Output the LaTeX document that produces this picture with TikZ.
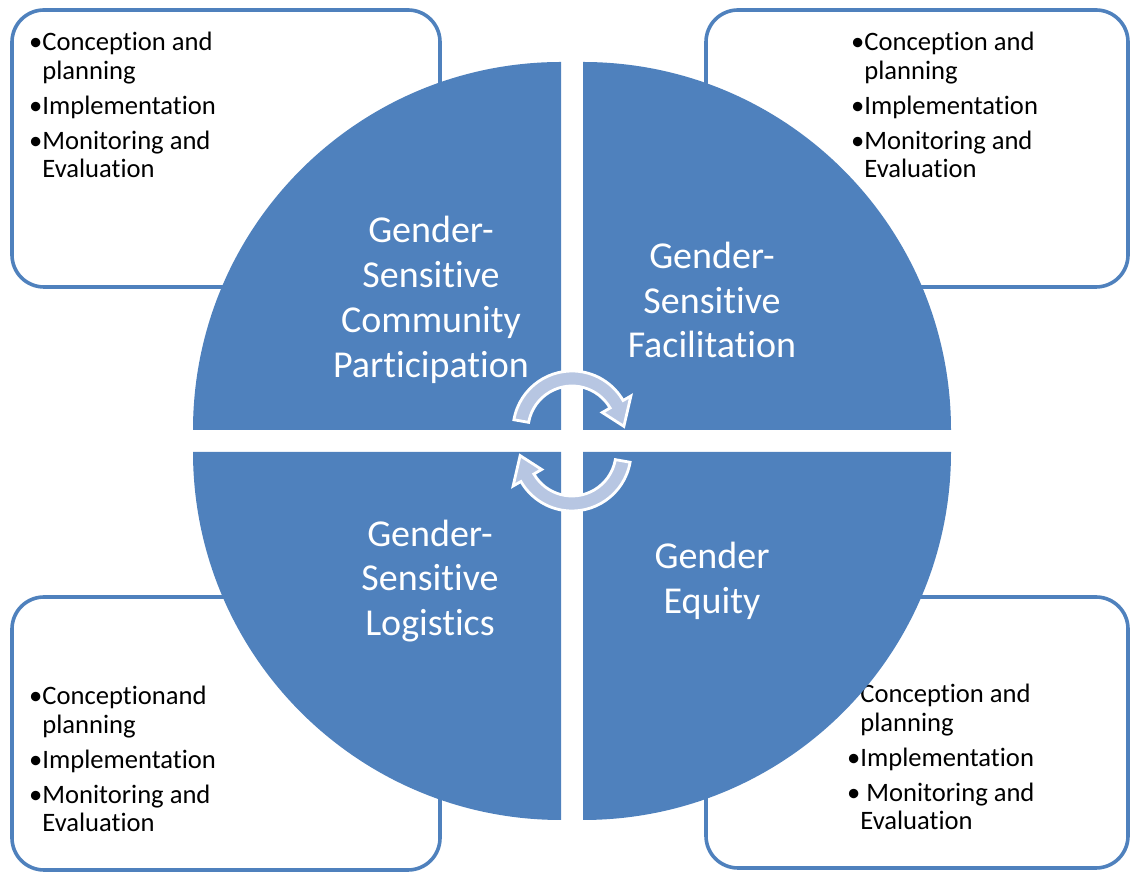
\documentclass[tikz,border=0pt]{standalone}
\usepackage{fontspec}
\setmainfont{Carlito}
\usetikzlibrary{calc}
\definecolor{quadblue}{RGB}{79,129,189}
\definecolor{arrowblue}{RGB}{183,198,226}
\tikzset{
  quadrant/.style={fill=quadblue},
  listbox/.style={draw=quadblue, line width=1.8pt, rounded corners=16pt, fill=white},
  listtext/.style={anchor=north west, align=left, inner sep=0pt, font=\fontsize{13.3}{14.25}\selectfont},
  quadtext/.style={align=center, text=white, inner sep=0pt, font=\fontsize{19}{22.4}\selectfont},
  arrowband/.style={fill=arrowblue, draw=white, line width=1.4pt}
}
\newcommand{\itemgap}{\\[3.25pt]}
\newcommand{\bul}{\llap{\textbullet}}
% break the t-i ligature of the font
\newcommand{\nl}{\kern0pt}

\begin{document}
\begin{tikzpicture}[x=0.5pt,y=0.5pt]
\useasboundingbox (0,0) rectangle (1130,872);
% corner boxes
\draw[listbox] (12,585) rectangle (440,862);
\draw[listbox] (706,585) rectangle (1128,862);
\draw[listbox] (12,2) rectangle (440,275);
\draw[listbox] (706,4) rectangle (1128,275);
\node[listtext] (tllist) at (42,840) {\bul Concept\nl ion and\\planning\itemgap\bul Implementat\nl ion\itemgap\bul Monitoring and\\Evaluat\nl ion};
\node[listtext] (trlist) at (864,840) {\bul Concept\nl ion and\\planning\itemgap\bul Implementat\nl ion\itemgap\bul Monitoring and\\Evaluat\nl ion};
\node[listtext] (bllist) at (42,186) {\bul Concept\nl ionand\\planning\itemgap\bul Implementat\nl ion\itemgap\bul Monitoring and\\Evaluat\nl ion};
\node[listtext] (brlist) at (860,188) {Concept\nl ion and\\planning\itemgap\bul Implementat\nl ion\itemgap\bul\ Monitoring and\\Evaluat\nl ion};
% four quarters of the circle
\coordinate (qtl) at (561,442);
\coordinate (qtr) at (583,442);
\coordinate (qbl) at (561,420);
\coordinate (qbr) at (583,420);
\fill[quadrant] (qtl) -- ++(-368,0) arc[start angle=180, end angle=90, radius=184pt] -- cycle;
\fill[quadrant] (qtr) -- ++(368,0) arc[start angle=0, end angle=90, radius=184pt] -- cycle;
\fill[quadrant] (qbl) -- ++(-368,0) arc[start angle=180, end angle=270, radius=184pt] -- cycle;
\fill[quadrant] (qbr) -- ++(368,0) arc[start angle=0, end angle=-90, radius=184pt] -- cycle;
\node[quadtext] (community) at (431,572) {Gender-\\Sensit\nl ive\\Community\\Part\nl icipat\nl ion};
\node[quadtext] (facilitation) at (712,572) {Gender-\\Sensit\nl ive\\Facilitat\nl ion};
\node[quadtext] (logistics) at (430,291) {Gender-\\Sensit\nl ive\\Logist\nl ics};
\node[quadtext] (equity) at (712,291) {Gender\\Equity};
% cycle arrows
\coordinate (cyctop) at (572,442);
\coordinate (cycbot) at (572,420);
\filldraw[arrowband] ([shift={(170:59)}]cyctop) arc[start angle=170, end angle=30, radius=29.5pt]
  -- ([shift={(30:68)}]cyctop) -- ([shift={(4:52)}]cyctop) -- ([shift={(30:35)}]cyctop)
  -- ([shift={(30:44)}]cyctop) arc[start angle=30, end angle=170, radius=22pt] -- cycle;
\filldraw[arrowband] ([shift={(-10:59)}]cycbot) arc[start angle=-10, end angle=-150, radius=29.5pt]
  -- ([shift={(-150:68)}]cycbot) -- ([shift={(-176:52)}]cycbot) -- ([shift={(-150:35)}]cycbot)
  -- ([shift={(-150:44)}]cycbot) arc[start angle=-150, end angle=-10, radius=22pt] -- cycle;
\end{tikzpicture}
\end{document}
